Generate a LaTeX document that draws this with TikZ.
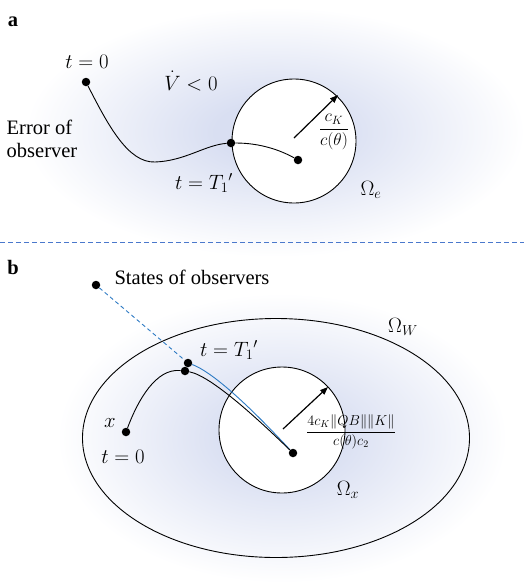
\documentclass[tikz,border=0pt]{standalone}
\usepackage{fontspec}
\setmainfont{Liberation Serif}
\usepackage{amsmath}
\usetikzlibrary{arrows.meta,shapes.geometric,positioning}
\definecolor{glowc}{HTML}{D9DFF2}
\definecolor{sepline}{HTML}{4A78CC}
\definecolor{obsline}{HTML}{2E7BC4}
\definecolor{ink}{HTML}{000000}
\pgfdeclareradialshading{glow}{\pgfpointorigin}{%
  color(0bp)=(glowc); color(6bp)=(glowc); color(25bp)=(white); color(50bp)=(white)}
\tikzset{
  % ---- regions -----------------------------------------------------
  region/.style   = {circle, draw=ink, line width=.9pt, fill=white,
                     inner sep=0pt},
  outreg/.style   = {ellipse, draw=ink, line width=.9pt, inner sep=0pt},
  halo/.style     = {shading=glow, draw=none},
  % ---- points and paths --------------------------------------------
  dot/.style      = {circle, fill=ink, inner sep=0pt, minimum size=8.5pt},
  traj/.style     = {draw=ink, line width=.9pt},
  radius/.style   = {draw=ink, line width=1.2pt, -{Triangle[length=8pt,width=6pt]}},
  obs/.style      = {draw=obsline, line width=.9pt, dashed,
                     dash pattern=on 4pt off 3pt},
  obssolid/.style = {draw=obsline, line width=.9pt},
  cut/.style      = {draw=sepline, line width=.8pt, dash pattern=on 5pt off 3pt},
  % ---- labels -------------------------------------------------------
  lbl/.style      = {font=\fontsize{20.5}{23}\selectfont, inner sep=1pt},
  frc/.style      = {font=\fontsize{14}{16}\selectfont, inner sep=0pt},
  tag/.style      = {font=\fontsize{20.5}{23}\selectfont\bfseries, inner sep=0pt},
}
\begin{document}
\begin{tikzpicture}[x=1pt, y=-1pt]
\useasboundingbox (0,0) rectangle (524,582);
% ---- panel a --------------------------------------------------------
\shade[halo] (275,132) ellipse (250pt and 125pt);
\node[tag] (tagA) at (13,22) {a};
\node[region, minimum size=124pt] (Oe) at (294,141) {};
\node[dot] (a0) at (86,82) {};
\node[dot] (a1) at (231,143) {};
\node[dot] (a2) at (298,160) {};
\coordinate (ac) at (294,138);
\coordinate (aR) at (338,95);
\draw[traj] (a0) .. controls (108,125) and (128,163) .. (155,162)
                 .. controls (185,161) and (205,145) .. (a1);
\draw[traj] (a1) .. controls (260,143) and (280,150) .. (a2);
\draw[radius] (ac) -- (aR);
\node[lbl] (at0) at (87,62) {$t=0$};
\node[lbl] (aV) at (191,81) {$\dot V<0$};
\node[lbl, align=left] (aerr) at (42,139) {Error of\\observer};
\node[lbl] (aT) at (204,183) {$t={T_1}'$};
\node[lbl] (aOm) at (371,190) {$\Omega_e$};
\node[frc, font=\fontsize{17}{19}\selectfont] (afr) at (334,132) {$\dfrac{c_K}{c(\theta)}$};
% ---- separator ------------------------------------------------------
\coordinate (sepL) at (0,242);
\coordinate (sepR) at (524,242);
\draw[cut] (sepL) -- (sepR);
% ---- panel b --------------------------------------------------------
\shade[halo] (282,438) ellipse (225pt and 145pt);
\node[tag] (tagB) at (13,267) {b};
\node[outreg, minimum width=387pt, minimum height=239pt] (OW) at (276,438) {};
\node[region, minimum size=126pt] (Ox) at (282,430) {};
\node[dot] (bs) at (96,285) {};
\node[dot] (bx) at (126,432) {};
\node[dot] (bo) at (188,363) {};
\node[dot] (bt) at (185,371) {};
\node[dot] (bc) at (293,453) {};
\coordinate (bcc) at (283,429);
\coordinate (bR) at (328,387);
\draw[obs] (bs) -- (bo);
\draw[obssolid] (bo) .. controls (218,374) and (266,424) .. (bc);
\draw[traj] (bx) .. controls (138,400) and (156,368) .. (bt);
\draw[traj] (bt) .. controls (212,376) and (262,423) .. (bc);
\draw[radius] (bcc) -- (bR);
\node[lbl] (bsl) at (192,277) {States of observers};
\node[lbl] (bW) at (403,327) {$\Omega_W$};
\node[lbl] (bT) at (229,350) {$t={T_1}'$};
\node[lbl] (bxl) at (110,423) {$x$};
\node[lbl] (bt0) at (123,457) {$t=0$};
\node[lbl] (bOm) at (348,490) {$\Omega_x$};
\node[frc] (bfr) at (351,432) {$\dfrac{4c_K\|QB\|\|K\|}{c(\theta)c_2}$};
\end{tikzpicture}
\end{document}
